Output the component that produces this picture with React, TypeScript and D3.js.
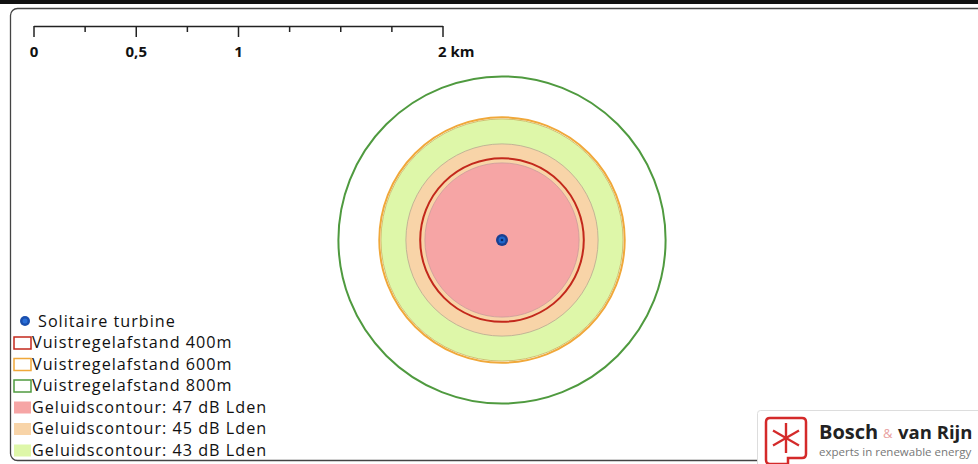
import { useEffect, useRef } from 'react';
import * as d3 from 'd3';

// scale bar (km)
const scaleTicks = [0, 0.25, 0.5, 0.75, 1, 1.25, 1.5, 1.75, 2];
const scaleLabels = [
  { km: 0, text: '0' },
  { km: 0.5, text: '0,5' },
  { km: 1, text: '1' },
  { km: 2, text: '2 km' },
];

// noise contours, radius in metres
const contourNames = ['Geluidscontour: 43 dB Lden', 'Geluidscontour: 45 dB Lden', 'Geluidscontour: 47 dB Lden'];
const contourRadius = [592, 470, 377];
const contourColors = ['#def7a9', '#f8d4a8', '#f6a5a5'];
const contourStroke = ['#c8b35a', '#b8a890', '#c99a9a'];

// rule-of-thumb distances, metres
const ruleNames = ['Vuistregelafstand 400m', 'Vuistregelafstand 600m', 'Vuistregelafstand 800m'];
const ruleRadius = [400, 600, 800];
const ruleColors = ['#c3281c', '#f0a83a', '#4f9a3f'];

const turbineLabel = 'Solitaire turbine';

const App = () => {
  const svgRef = useRef<SVGSVGElement | null>(null);

  useEffect(() => {
    if (!svgRef.current) return;
    const width = 978;
    const height = 464;
    const svg = d3.select(svgRef.current).attr('width', width).attr('height', height);
    svg.selectAll('*').remove();

    const font = '"Open Sans", "DejaVu Sans", sans-serif';

    svg.append('rect').attr('width', width).attr('height', height).attr('fill', '#fff');
    // dark band at top
    svg.append('rect').attr('x', 0).attr('y', 0).attr('width', width).attr('height', 4).attr('fill', '#111');
    // map frame
    svg.append('rect')
      .attr('x', 10.5).attr('y', 8.5)
      .attr('width', 1000).attr('height', 452)
      .attr('rx', 7)
      .attr('fill', 'none')
      .attr('stroke', '#444')
      .attr('stroke-width', 1.3);

    const x = d3.scaleLinear().domain([0, 2]).range([34, 443]);
    const r = (m: number) => x(m / 1000) - x(0);

    // scale bar
    const bar = svg.append('g');
    bar.append('line')
      .attr('x1', x(0)).attr('x2', x(2))
      .attr('y1', 26.5).attr('y2', 26.5)
      .attr('stroke', '#222').attr('stroke-width', 1.5);
    bar.selectAll('line.tick')
      .data(scaleTicks)
      .enter()
      .append('line')
      .attr('class', 'tick')
      .attr('x1', d => x(d)).attr('x2', d => x(d))
      .attr('y1', 26)
      .attr('y2', d => (d === 0 || d === 0.5 || d === 1 || d === 2 ? 37 : 32))
      .attr('stroke', '#222').attr('stroke-width', 1.5);
    bar.selectAll('text')
      .data(scaleLabels)
      .enter()
      .append('text')
      .attr('x', d => (d.km === 2 ? x(d.km) - 5 : x(d.km)))
      .attr('y', 57)
      .attr('text-anchor', d => (d.km === 2 ? 'start' : 'middle'))
      .attr('font-family', font)
      .attr('font-size', 15)
      .attr('font-weight', 'bold')
      .attr('fill', '#111')
      .text(d => d.text);

    // map
    const cx = 502;
    const cy = 240;
    const map = svg.append('g').attr('transform', `translate(${cx}, ${cy})`);

    map.selectAll('circle.contour')
      .data(contourRadius)
      .enter()
      .append('circle')
      .attr('class', 'contour')
      .attr('r', d => r(d))
      .attr('fill', (_, i) => contourColors[i])
      .attr('stroke', (_, i) => contourStroke[i])
      .attr('stroke-width', 0.8);

    map.selectAll('circle.rule')
      .data(ruleRadius)
      .enter()
      .append('circle')
      .attr('class', 'rule')
      .attr('r', d => r(d))
      .attr('fill', 'none')
      .attr('stroke', (_, i) => ruleColors[i])
      .attr('stroke-width', 2);

    map.append('circle').attr('r', 6).attr('fill', '#1a3f8f');
    map.append('circle').attr('r', 3.5).attr('fill', '#1e66cc');
    map.append('circle').attr('r', 1.3).attr('fill', '#0b2a6a');

    // legend
    const leg = svg.append('g');
    const rowY = (i: number) => 321 + i * 21.5;
    const legendFont = 16.2;
    const legendSpacing = 1;
    leg.append('circle').attr('cx', 25).attr('cy', rowY(0)).attr('r', 5).attr('fill', '#1a4fae');
    leg.append('circle').attr('cx', 25).attr('cy', rowY(0)).attr('r', 2.5).attr('fill', '#2a6fd8');
    leg.append('text')
      .attr('x', 38).attr('y', rowY(0) + 5.8)
      .attr('font-family', font).attr('font-size', legendFont)
      .attr('letter-spacing', legendSpacing).attr('fill', '#111')
      .text(turbineLabel);

    const legendItems = [
      ...ruleNames.map((n, i) => ({ name: n, fill: '#fff', stroke: ruleColors[i] })),
      ...[2, 1, 0].map(i => ({ name: contourNames[i], fill: contourColors[i], stroke: 'none' })),
    ];
    const items = leg.selectAll('g.item')
      .data(legendItems)
      .enter()
      .append('g')
      .attr('class', 'item')
      .attr('transform', (_, i) => `translate(0, ${rowY(i + 1)})`);
    items.append('rect')
      .attr('x', 14).attr('y', -5.5)
      .attr('width', 17).attr('height', 12)
      .attr('fill', d => d.fill)
      .attr('stroke', d => d.stroke)
      .attr('stroke-width', 1.5);
    items.append('text')
      .attr('x', 32).attr('y', 5.8)
      .attr('font-family', font).attr('font-size', legendFont)
      .attr('letter-spacing', legendSpacing).attr('fill', '#111')
      .text(d => d.name);

    // logo
    const logo = svg.append('g').attr('transform', 'translate(757, 410)');
    logo.append('rect')
      .attr('x', 0.5).attr('y', 0.5).attr('width', 240).attr('height', 60)
      .attr('rx', 3).attr('fill', '#fff').attr('stroke', '#ddd');
    const icon = logo.append('g').attr('transform', 'translate(7, 6)');
    icon.append('path')
      .attr('d', 'M6,2 H38 Q42,2 42,6 V38 Q42,42 38,42 H24 V48 H6 Q2,48 2,44 V6 Q2,2 6,2 Z')
      .attr('fill', 'none').attr('stroke', '#d42a2a').attr('stroke-width', 2.5);
    const spokes = d3.range(6).map(i => (i * Math.PI) / 3 + Math.PI / 6);
    icon.selectAll('line')
      .data(spokes)
      .enter()
      .append('line')
      .attr('x1', 22).attr('y1', 22)
      .attr('x2', d => 22 + Math.cos(d) * 15)
      .attr('y2', d => 22 + Math.sin(d) * 15)
      .attr('stroke', '#d42a2a').attr('stroke-width', 2.2);
    icon.append('line').attr('x1', 22).attr('x2', 22).attr('y1', 7).attr('y2', 37)
      .attr('stroke', '#d42a2a').attr('stroke-width', 2.2);
    logo.append('text')
      .attr('x', 62).attr('y', 29)
      .attr('font-family', font).attr('font-size', 20).attr('font-weight', 'bold').attr('fill', '#222')
      .text('Bosch');
    logo.append('text')
      .attr('x', 126).attr('y', 28)
      .attr('font-family', font).attr('font-size', 13).attr('fill', '#e8a0a0')
      .text('&');
    logo.append('text')
      .attr('x', 141).attr('y', 29)
      .attr('font-family', font).attr('font-size', 18.5).attr('font-weight', 'bold').attr('fill', '#222')
      .text('van Rijn');
    logo.append('text')
      .attr('x', 62).attr('y', 46)
      .attr('font-family', font).attr('font-size', 11.5).attr('fill', '#777')
      .text('experts in renewable energy');
  }, []);

  return (
    <svg ref={svgRef} style={{ position: 'absolute', left: 0, top: 0 }}></svg>
  );
};

export default App;
